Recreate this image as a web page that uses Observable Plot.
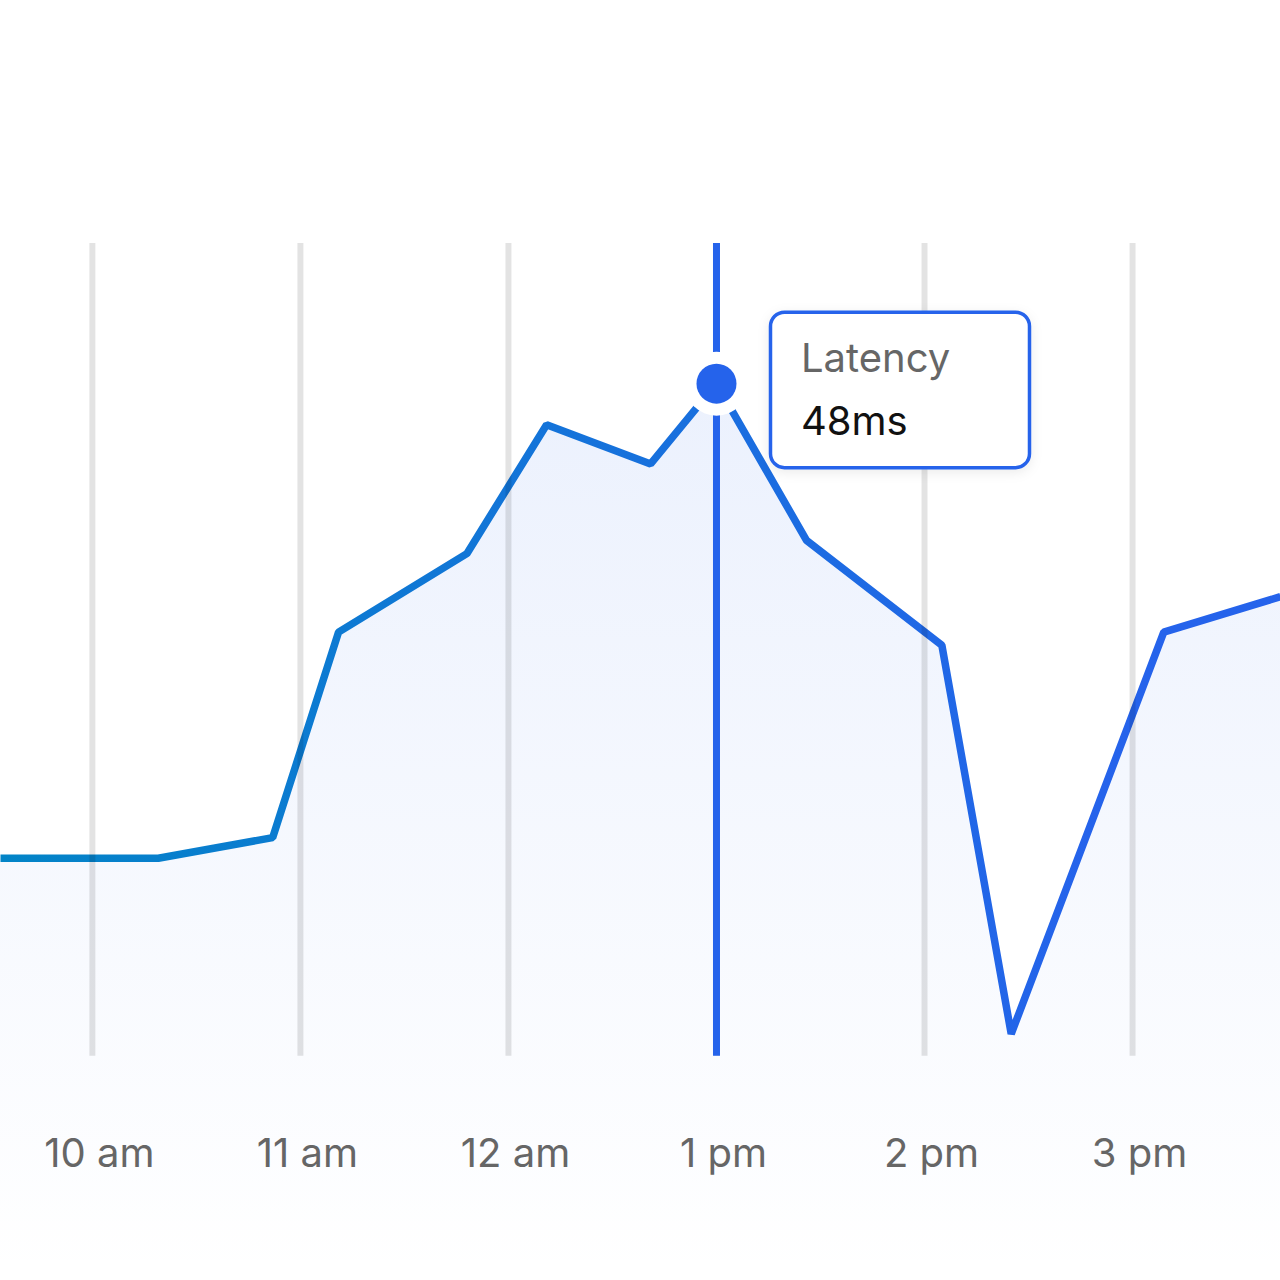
<!DOCTYPE html>
<html>
<head>
<meta charset="utf-8">
<script src="https://cdn.jsdelivr.net/npm/d3@7"></script>
<script src="https://cdn.jsdelivr.net/npm/@observablehq/plot@0.6"></script>
<style>
  html, body { margin: 0; padding: 0; background: #ffffff; }
  #chart { width: 1280px; height: 1280px; }
</style>
</head>
<body>
<div id="chart"></div>
<script>
// ---- data ----
const times = ["09:33:30", "10:19", "10:52", "11:11", "11:48", "12:11", "12:41", "13:00", "13:26", "14:05", "14:25", "15:09", "15:42:40"];
const latency = [22.6, 22.6, 23.7, 34.7, 38.9, 45.8, 43.7, 48, 39.6, 34.0, 13.2, 34.7, 36.6];
const tickTimes = ["10:00", "11:00", "12:00", "13:00", "14:00", "15:00"];
const tickLabels = ["10 am", "11 am", "12 am", "1 pm", "2 pm", "3 pm"];
const focusTime = "13:00";
const focusValue = 48;
const focusName = "Latency";
const focusText = "48ms";

const toDate = t => new Date(`2024-01-01T${t.length === 5 ? t + ":00" : t}`);
const data = times.map((t, i) => ({t: toDate(t), v: latency[i]}));
const ticks = tickTimes.map((t, i) => ({t: toDate(t), label: tickLabels[i]}));
const focus = [{t: toDate(focusTime), v: focusValue}];

const gridBottom = 12;   // lower end of grid rules (data units)
const yTop = 55.5;

const plot = Plot.plot({
  width: 1280,
  height: 1280,
  marginTop: 243,
  marginBottom: 0,
  marginLeft: 0,
  marginRight: 0,
  style: {fontFamily: "Inter, 'Noto Sans', sans-serif", fontSize: "40px", background: "#ffffff", overflow: "visible"},
  x: {type: "time", domain: d3.extent(data, d => d.t), axis: null},
  y: {domain: [0, yTop], axis: null},
  marks: [
    Plot.areaY(data, {x: "t", y: "v", fill: "url(#areaGrad)", curve: "linear"}),
    Plot.lineY(data, {x: "t", y: "v", stroke: "url(#lineGrad)", strokeWidth: 7.5, strokeLinejoin: "miter", strokeLinecap: "butt", curve: "linear"}),
    Plot.ruleX(ticks, {x: "t", y1: gridBottom, y2: yTop, stroke: "#000", strokeOpacity: 0.11, strokeWidth: 6}),
    Plot.ruleX(focus, {x: "t", y1: gridBottom, y2: yTop, stroke: "#2563eb", strokeWidth: 7}),
    Plot.dot(focus, {x: "t", y: "v", r: 32, fill: "#ffffff", stroke: null}),
    Plot.dot(focus, {x: "t", y: "v", r: 20, fill: "#2563eb", stroke: null}),
    Plot.text(ticks, {x: "t", text: "label", frameAnchor: "bottom", dy: -126, dx: 7, lineAnchor: "middle", textAnchor: "middle", fill: "#666666", fontSize: 40})
  ]
});

document.getElementById("chart").appendChild(plot);

const svg = d3.select(plot);
const defs = svg.insert("defs", ":first-child");
const lg = defs.append("linearGradient").attr("id", "lineGrad").attr("x1", 0).attr("y1", 0).attr("x2", 1).attr("y2", 0);
lg.append("stop").attr("offset", "0%").attr("stop-color", "#0284c7");
lg.append("stop").attr("offset", "85%").attr("stop-color", "#2563eb");
lg.append("stop").attr("offset", "100%").attr("stop-color", "#2563eb");
const ag = defs.append("linearGradient").attr("id", "areaGrad").attr("x1", 0).attr("y1", 0).attr("x2", 0).attr("y2", 1);
ag.append("stop").attr("offset", "0%").attr("stop-color", "#2563eb").attr("stop-opacity", 0.09);
ag.append("stop").attr("offset", "100%").attr("stop-color", "#2563eb").attr("stop-opacity", 0);
const f = defs.append("filter").attr("id", "tipShadow").attr("x", "-20%").attr("y", "-20%").attr("width", "140%").attr("height", "150%");
f.append("feDropShadow").attr("dx", 0).attr("dy", 3).attr("stdDeviation", 6).attr("flood-color", "#000").attr("flood-opacity", 0.08);

// tooltip anchored to the focused point
const px = plot.scale("x").apply(focus[0].t);
const py = plot.scale("y").apply(focus[0].v);
const tip = svg.append("g").attr("transform", `translate(${px + 54.5},${py - 71})`).attr("text-anchor", "start");
tip.append("rect").attr("width", 259).attr("height", 155.5).attr("rx", 14)
  .attr("fill", "#ffffff").attr("stroke", "#2563eb").attr("stroke-width", 3.5)
  .attr("filter", "url(#tipShadow)");
tip.append("text").attr("x", 30.5).attr("y", 60).attr("fill", "#666666").attr("text-anchor", "start")
  .attr("font-family", "Inter, sans-serif").attr("font-size", 40).text(focusName);
tip.append("text").attr("x", 30.5).attr("y", 123).attr("fill", "#111111").attr("text-anchor", "start")
  .attr("font-family", "Inter, sans-serif").attr("font-size", 40).text(focusText);
</script>
</body>
</html>
